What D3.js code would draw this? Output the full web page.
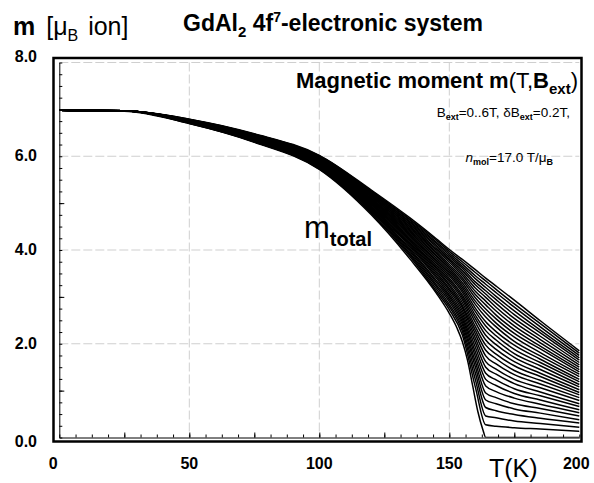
<!DOCTYPE html>
<html><head><meta charset="utf-8">
<script src="https://cdn.jsdelivr.net/npm/d3@7"></script>
<style>
body{margin:0;background:#fff}
svg{display:block}
text{font-family:"Liberation Sans",Arial,Helvetica,sans-serif;fill:#000}
</style>
</head><body>
<svg id="chart" width="594" height="483"></svg>
<script>
// Temperatures (K) at which the zero-field curve was read
const tempsZeroField = [0,25,50,75,100,120,135,145,150,153,155,157,159,161,163,164,170,185,200];
// Zero-field moment (mu_B per ion)
const momentsZeroField = [6.98,6.96,6.70,6.30,5.72,4.75,3.80,3.08,2.65,2.33,2.05,1.65,1.10,0.55,0.15,0.00,0.00,0.00,0.00];
// Temperatures (K) at which the in-field curves were read
const temps = [0,25,50,75,100,120,135,145,150,155,160,164,168,175,185,200];
// External field of each in-field curve (T): 0.2 .. 6 T, step 0.2 T
const fields = [0.2,0.4,0.6,0.8,1.0,1.2,1.4,1.6,1.8,2.0,2.2,2.4,2.6,2.8,3.0,3.2,3.4,3.6,3.8,4.0,4.2,4.4,4.6,4.8,5.0,5.2,5.4,5.6,5.8,6.0];
// Magnetic moment m (mu_B per ion), one row per field, one value per temperature
const moments = [
[6.98,6.97,6.70,6.31,5.73,4.78,3.85,3.12,2.73,2.19,1.08,0.27,0.24,0.21,0.18,0.13],
[6.98,6.97,6.71,6.31,5.74,4.80,3.89,3.17,2.79,2.27,1.24,0.46,0.42,0.35,0.30,0.22],
[6.98,6.97,6.71,6.32,5.75,4.83,3.92,3.22,2.84,2.34,1.38,0.64,0.57,0.49,0.41,0.31],
[6.98,6.97,6.71,6.32,5.76,4.85,3.96,3.26,2.90,2.41,1.51,0.80,0.72,0.61,0.52,0.38],
[6.98,6.97,6.72,6.33,5.77,4.87,3.99,3.31,2.95,2.47,1.62,0.95,0.85,0.72,0.62,0.46],
[6.98,6.97,6.72,6.34,5.78,4.88,4.02,3.35,3.00,2.53,1.73,1.10,0.98,0.84,0.71,0.53],
[6.98,6.97,6.72,6.34,5.79,4.90,4.06,3.40,3.04,2.59,1.83,1.24,1.11,0.94,0.80,0.59],
[6.98,6.97,6.72,6.35,5.79,4.92,4.09,3.44,3.09,2.65,1.93,1.37,1.23,1.04,0.89,0.66],
[6.98,6.97,6.73,6.35,5.80,4.94,4.12,3.48,3.14,2.71,2.03,1.50,1.35,1.15,0.97,0.72],
[6.98,6.97,6.73,6.36,5.81,4.96,4.15,3.52,3.18,2.77,2.12,1.62,1.46,1.24,1.06,0.79],
[6.98,6.97,6.73,6.37,5.82,4.98,4.18,3.56,3.23,2.82,2.21,1.74,1.57,1.34,1.14,0.85],
[6.98,6.97,6.74,6.37,5.83,4.99,4.20,3.60,3.27,2.88,2.29,1.86,1.68,1.43,1.22,0.91],
[6.98,6.97,6.74,6.38,5.84,5.01,4.23,3.63,3.32,2.94,2.37,1.97,1.78,1.53,1.30,0.96],
[6.98,6.97,6.74,6.38,5.85,5.03,4.26,3.67,3.36,2.99,2.46,2.08,1.88,1.62,1.37,1.02],
[6.98,6.97,6.75,6.39,5.86,5.04,4.29,3.71,3.40,3.04,2.54,2.18,1.98,1.71,1.45,1.08],
[6.98,6.97,6.75,6.40,5.87,5.06,4.32,3.75,3.45,3.10,2.61,2.28,2.08,1.79,1.53,1.13],
[6.98,6.97,6.75,6.40,5.88,5.08,4.34,3.78,3.49,3.15,2.69,2.38,2.17,1.88,1.60,1.19],
[6.98,6.97,6.75,6.41,5.89,5.09,4.37,3.82,3.53,3.20,2.76,2.47,2.26,1.97,1.67,1.24],
[6.98,6.97,6.76,6.41,5.90,5.11,4.40,3.86,3.57,3.25,2.84,2.57,2.36,2.05,1.74,1.30],
[6.98,6.97,6.76,6.42,5.91,5.13,4.42,3.89,3.61,3.30,2.91,2.66,2.44,2.14,1.81,1.35],
[6.98,6.97,6.76,6.43,5.92,5.14,4.45,3.93,3.65,3.36,2.98,2.74,2.53,2.22,1.89,1.40],
[6.98,6.97,6.77,6.43,5.93,5.16,4.48,3.96,3.69,3.41,3.05,2.83,2.61,2.30,1.95,1.45],
[6.98,6.97,6.77,6.44,5.94,5.17,4.50,4.00,3.74,3.46,3.12,2.91,2.70,2.38,2.02,1.50],
[6.98,6.97,6.77,6.44,5.95,5.19,4.53,4.03,3.78,3.51,3.19,2.99,2.78,2.46,2.09,1.55],
[6.98,6.97,6.78,6.45,5.96,5.20,4.55,4.07,3.81,3.56,3.26,3.06,2.86,2.54,2.16,1.60],
[6.98,6.97,6.78,6.46,5.97,5.22,4.58,4.10,3.85,3.61,3.32,3.13,2.94,2.62,2.23,1.65],
[6.98,6.97,6.78,6.46,5.98,5.23,4.60,4.14,3.89,3.65,3.39,3.20,3.01,2.70,2.29,1.70],
[6.98,6.97,6.78,6.47,5.99,5.25,4.63,4.17,3.93,3.70,3.45,3.27,3.09,2.78,2.36,1.75],
[6.98,6.97,6.79,6.47,6.01,5.26,4.65,4.21,3.97,3.75,3.52,3.34,3.16,2.85,2.43,1.80],
[6.98,6.97,6.79,6.48,6.02,5.28,4.68,4.24,4.01,3.80,3.58,3.40,3.23,2.93,2.49,1.85]
];
const xTickValues = [0,50,100,150,200];
const xTickLabels = ["0","50","100","150","200"];
const yTickValues = [0,2,4,6,8];
const yTickLabels = ["0.0","2.0","4.0","6.0","8.0"];

const svg = d3.select("#chart");
const x = d3.scaleLinear().domain([0,200]).range([59.3,579.3]);
const y = d3.scaleLinear().domain([0,8]).range([437.5,62.5]);

// grid
const grid = svg.append("g").attr("stroke","#cfcfcf").attr("stroke-width",1).attr("stroke-dasharray","9,3");
[50,100,150].forEach(t=>grid.append("line").attr("x1",x(t)).attr("x2",x(t)).attr("y1",y(8)).attr("y2",y(0)));
[2,4,6,8].forEach(v=>grid.append("line").attr("x1",x(0)).attr("x2",x(200)).attr("y1",y(v)).attr("y2",y(v)));

// inner axes with inward minor ticks
const xa = d3.axisBottom(x).tickValues(d3.range(0,200.01,6.25)).tickSizeInner(-3).tickSizeOuter(0).tickFormat("");
const gx = svg.append("g").attr("transform",`translate(0,${y(0)})`).call(xa);
gx.selectAll("line").attr("stroke","#000");
gx.select(".domain").attr("stroke","#000");
const xaM = d3.axisBottom(x).tickValues(d3.range(25,200,25)).tickSizeInner(-5).tickSizeOuter(0).tickFormat("");
const gxM = svg.append("g").attr("transform",`translate(0,${y(0)})`).call(xaM);
gxM.select(".domain").remove();
const ya = d3.axisLeft(y).tickValues(d3.range(0,8.01,0.25)).tickSizeInner(-3).tickSizeOuter(0).tickFormat("");
const gy = svg.append("g").attr("transform",`translate(${x(0)},0)`).call(ya);
gy.select(".domain").attr("stroke","#000");
const yaM = d3.axisLeft(y).tickValues([1,3,5,7]).tickSizeInner(-5).tickSizeOuter(0).tickFormat("");
const gyM = svg.append("g").attr("transform",`translate(${x(0)},0)`).call(yaM);
gyM.select(".domain").remove();

// curves
svg.append("clipPath").attr("id","clip").append("rect").attr("x",x(0)).attr("y",y(8)).attr("width",x(200)-x(0)+2).attr("height",y(0)-y(8));
const line = d3.line().x(d=>x(d[0])).y(d=>y(d[1])).curve(d3.curveMonotoneX);
const curveData = [tempsZeroField.map((t,j)=>[t,momentsZeroField[j]])]
  .concat(fields.map((b,i)=>temps.map((t,j)=>[t,moments[i][j]])));
svg.append("g").attr("clip-path","url(#clip)").selectAll("path")
  .data(curveData)
  .join("path").attr("d",line).attr("fill","none").attr("stroke","#000").attr("stroke-width",1.5);

// frame
svg.append("rect").attr("x",53.5).attr("y",58).attr("width",528).attr("height",383.5)
  .attr("fill","none").attr("stroke","#000").attr("stroke-width",2.5);

// tick labels
svg.selectAll(".xl").data(xTickValues).join("text").attr("class","xl")
  .attr("x",(d,i)=>x(d)+(i===0?-6:(i===4?-3:0))).attr("y",469).attr("text-anchor","middle")
  .attr("font-size",16).attr("font-weight","bold").text((d,i)=>xTickLabels[i]);
svg.selectAll(".yl").data(yTickValues).join("text").attr("class","yl")
  .attr("x",37).attr("y",(d,i)=>y(d)+(d===0?9:(d===8?-1:5))).attr("text-anchor","end")
  .attr("font-size",16).attr("font-weight","bold").text((d,i)=>yTickLabels[i]);

// titles
const t1 = svg.append("text").attr("x",13).attr("y",35).attr("font-size",25);
t1.append("tspan").attr("font-weight","bold").text("m");
t1.append("tspan").attr("dx",4).text(" [μ");
t1.append("tspan").attr("font-size",16).attr("dy",6).text("B");
t1.append("tspan").attr("dy",-6).attr("dx",3).text(" ion]");

const t2 = svg.append("text").attr("x",183).attr("y",31).attr("font-size",23).attr("font-weight","bold");
t2.append("tspan").text("GdAl");
t2.append("tspan").attr("font-size",15).attr("dy",6).text("2");
t2.append("tspan").attr("dy",-6).text(" 4f");
t2.append("tspan").attr("font-size",14).attr("dy",-9).text("7");
t2.append("tspan").attr("dy",9).text("-electronic system");

const t3 = svg.append("text").attr("x",578).attr("y",88).attr("text-anchor","end").attr("font-size",22).attr("font-weight","bold");
t3.append("tspan").text("Magnetic moment m");
t3.append("tspan").attr("font-weight","normal").text("(T,");
t3.append("tspan").text("B");
t3.append("tspan").attr("font-size",15).attr("dy",6).text("ext");
t3.append("tspan").attr("dy",-6).attr("font-weight","normal").text(")");

const t4 = svg.append("text").attr("x",570).attr("y",117).attr("text-anchor","end").attr("font-size",13.5);
t4.append("tspan").text("B");
t4.append("tspan").attr("font-size",9).attr("dy",3).attr("font-weight","bold").text("ext");
t4.append("tspan").attr("dy",-3).text("=0..6T, δB");
t4.append("tspan").attr("font-size",9).attr("dy",3).attr("font-weight","bold").text("ext");
t4.append("tspan").attr("dy",-3).text("=0.2T,");

const t5 = svg.append("text").attr("x",553).attr("y",162).attr("text-anchor","end").attr("font-size",13.5);
t5.append("tspan").attr("font-style","italic").text("n");
t5.append("tspan").attr("font-size",9).attr("dy",3).attr("font-weight","bold").text("mol");
t5.append("tspan").attr("dy",-3).text("=17.0 T/μ");
t5.append("tspan").attr("font-size",9).attr("dy",3).attr("font-weight","bold").text("B");

const t6 = svg.append("text").attr("x",304).attr("y",238).attr("font-size",31);
t6.append("tspan").text("m");
t6.append("tspan").attr("font-size",20).attr("font-weight","bold").attr("dy",8).text("total");

svg.append("text").attr("x",489).attr("y",477).attr("font-size",25).text("T(K)");
</script>
</body></html>
